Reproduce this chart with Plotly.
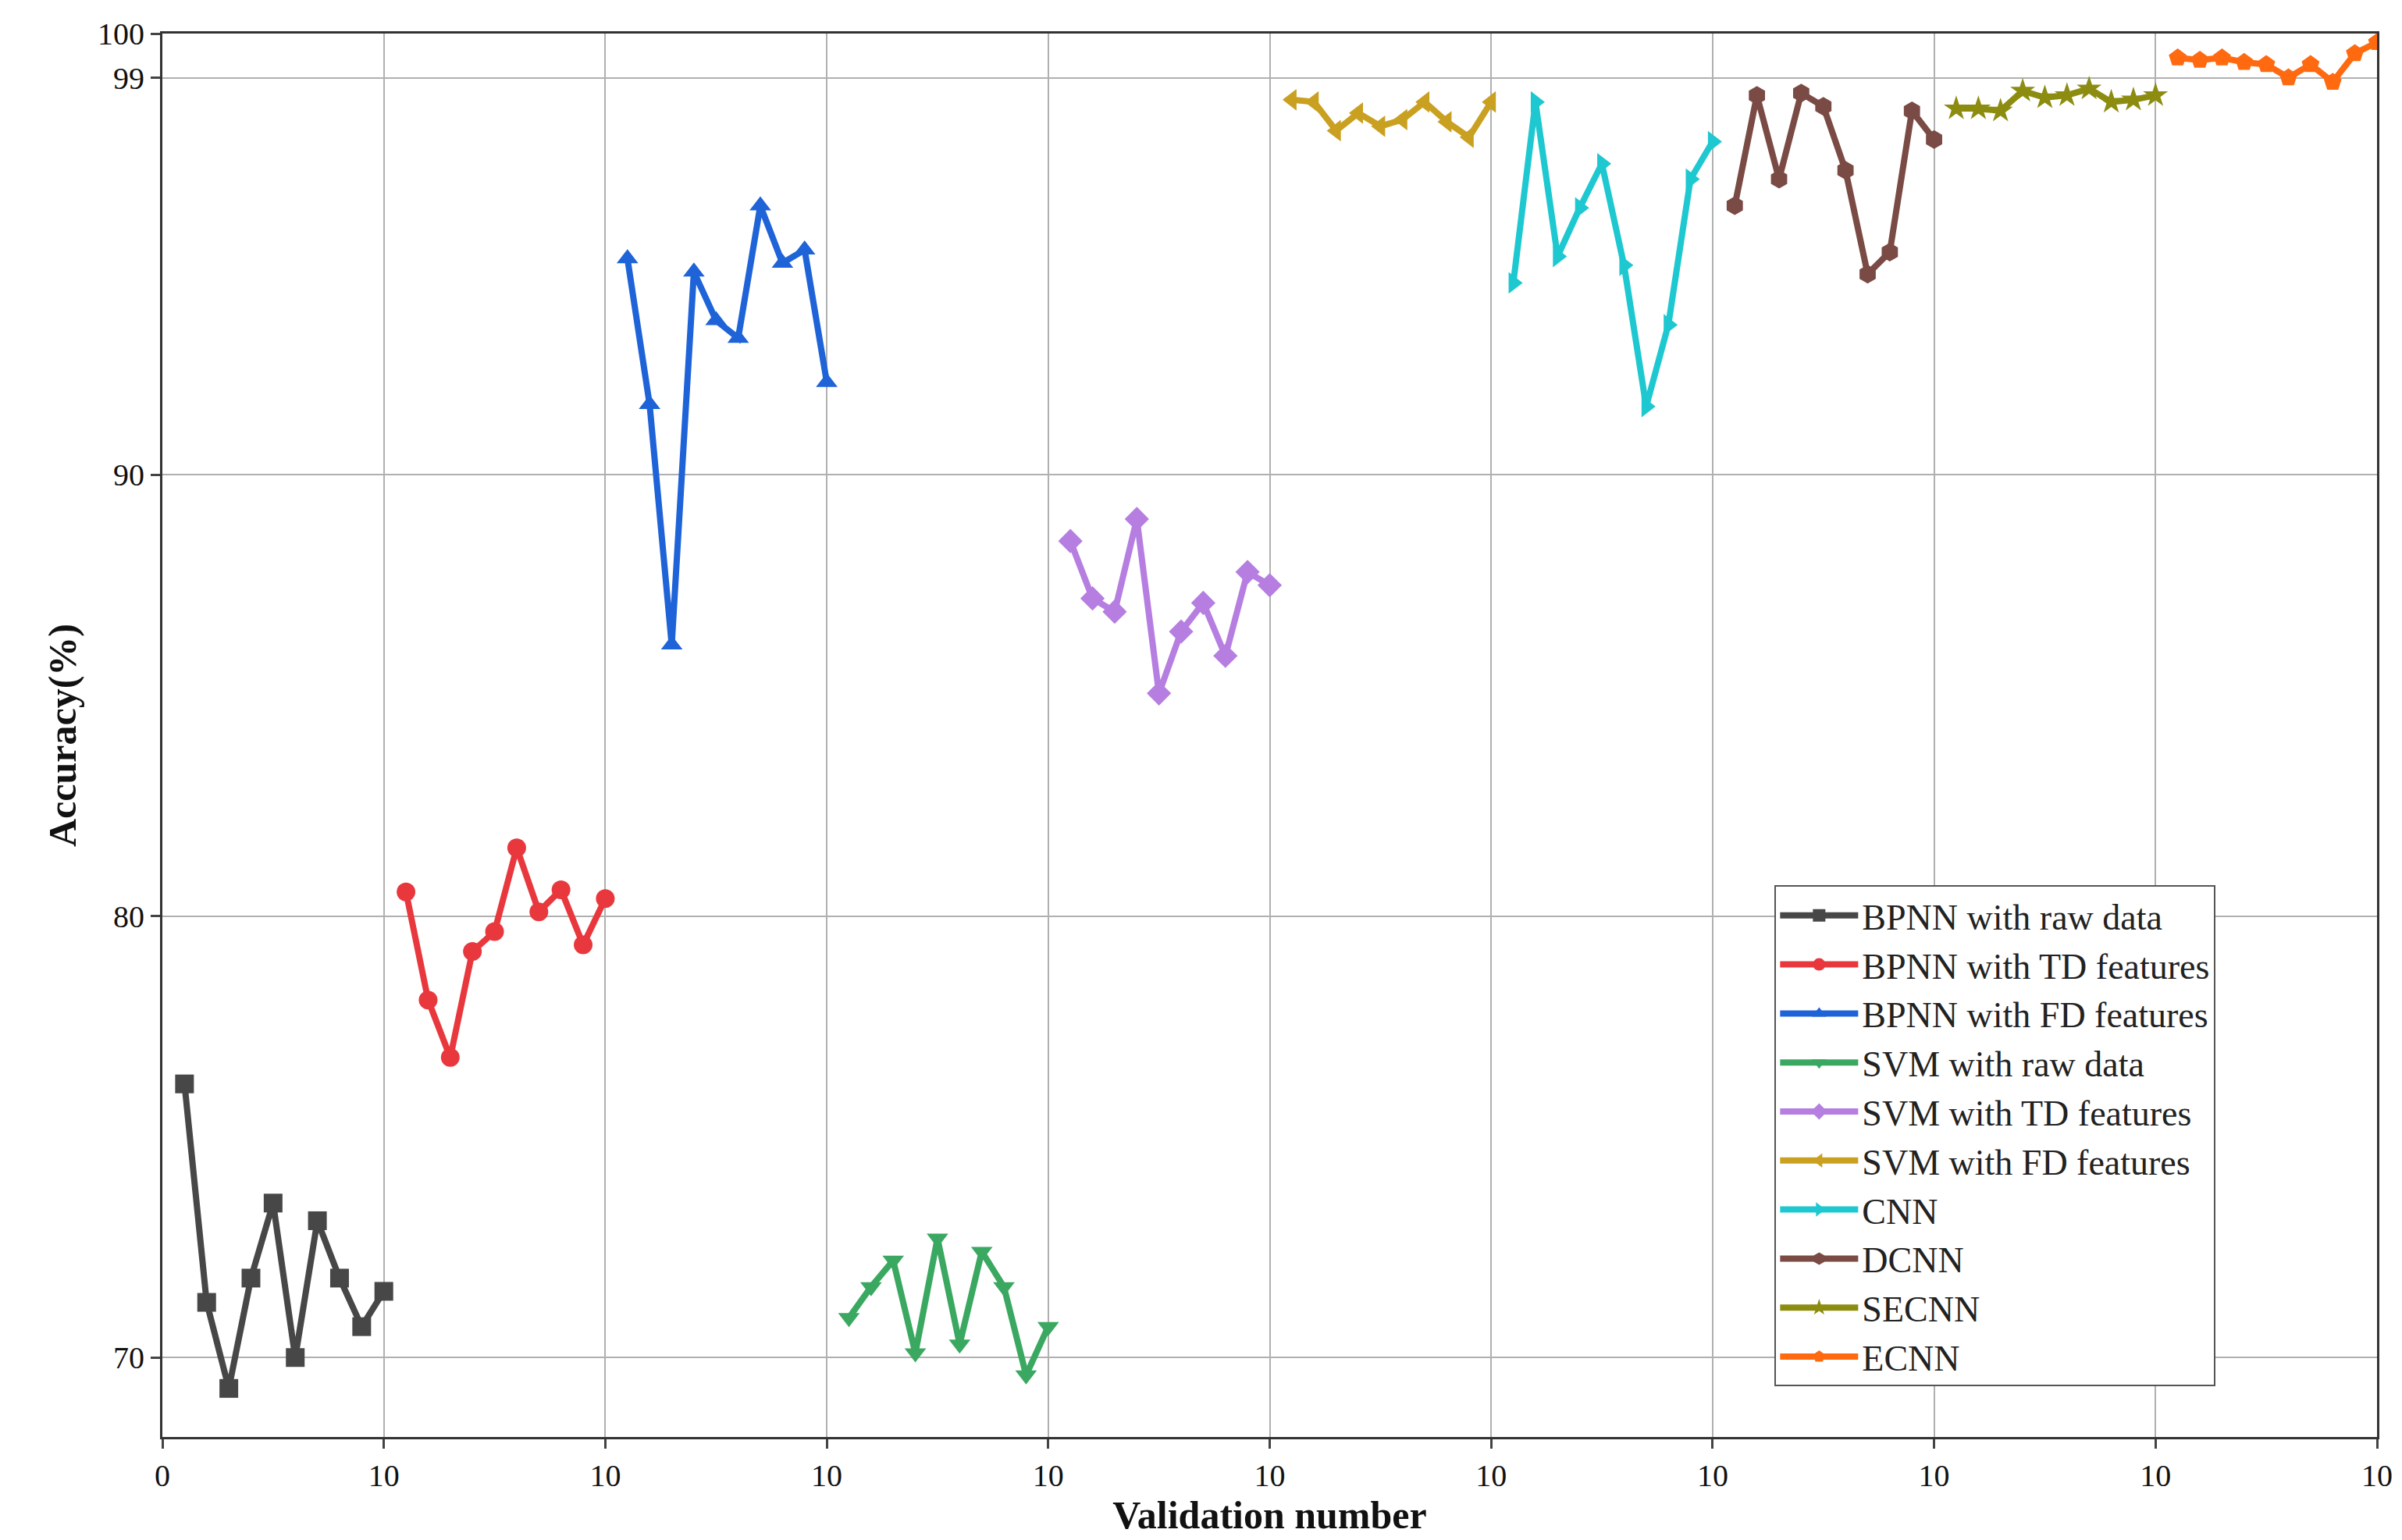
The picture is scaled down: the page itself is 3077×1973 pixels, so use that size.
import plotly.graph_objects as go

names = ["BPNN with raw data","BPNN with TD features","BPNN with FD features","SVM with raw data",
         "SVM with TD features","SVM with FD features","CNN","DCNN","SECNN","ECNN"]
bpnn_raw = [76.2,71.25,69.3,71.8,73.5,70.0,73.1,71.8,70.7,71.5]
bpnn_td = [80.55,78.1,76.8,79.2,79.65,81.55,80.1,80.6,79.35,80.4]
bpnn_fd = [94.9,91.6,86.15,94.6,93.5,93.1,96.1,94.8,95.1,92.1]
svm_raw = [70.9,71.6,72.2,70.1,72.7,70.3,72.4,71.6,69.6,70.7]
svm_td = [88.5,87.2,86.9,89.0,85.05,86.45,87.1,85.9,87.8,87.5]
svm_fd = [98.5,98.45,97.8,98.2,97.9,98.05,98.45,98.0,97.65,98.45]
cnn = [94.35,98.45,94.95,96.05,97.05,94.75,91.55,93.4,96.7,97.55]
dcnn = [96.1,98.6,96.7,98.65,98.35,96.9,94.55,95.05,98.25,97.6]
secnn = [98.3,98.3,98.25,98.7,98.55,98.6,98.75,98.45,98.5,98.6]
ecnn = [99.45,99.4,99.45,99.35,99.3,99.0,99.3,98.9,99.55,99.8]
series = [bpnn_raw,bpnn_td,bpnn_fd,svm_raw,svm_td,svm_fd,cnn,dcnn,secnn,ecnn]
colors = ["#474747","#e8383d","#1f63d8","#3aa860","#b57ee0","#c9a020","#1ec8d0","#7a4a45","#8c8c10","#ff6a10"]
symbols = ["square","circle","triangle-up","triangle-down","diamond","triangle-left","triangle-right","hexagon","star","pentagon"]
xtick_vals = [0,10,20,30,40,50,60,70,80,90,100]
xtick_text = ["0"]+["10"]*10
ytick_vals = [70,80,90,99,100]

fig = go.Figure()
for i,(n,v) in enumerate(zip(names,series)):
    fig.add_trace(go.Scatter(x=list(range(i*10+1,i*10+11)), y=v, name=n, mode="lines+markers",
        line=dict(color=colors[i], width=8), marker=dict(symbol=symbols[i], size=24, color=colors[i])))

ax = dict(showline=True, linecolor="#333", linewidth=3, mirror=True, ticks="outside", ticklen=12,
          tickwidth=3, gridcolor="#b0b0b0", gridwidth=2, zeroline=False,
          tickfont=dict(size=40, family="Liberation Serif", color="#111"))
fig.update_xaxes(**ax, range=[0,100], tickvals=xtick_vals, ticktext=xtick_text,
                 title=dict(text="<b>Validation number</b>", font=dict(size=50, family="Liberation Serif", color="#111"), standoff=6))
fig.update_yaxes(**ax, range=[68.2,100], tickvals=ytick_vals,
                 title=dict(text="<b>Accuracy(%)</b>", font=dict(size=50, family="Liberation Serif", color="#111"), standoff=12))
fig.update_layout(width=3077, height=1973, plot_bgcolor="white", paper_bgcolor="white",
    margin=dict(l=200, r=40, t=35, b=140),
    legend=dict(x=0.728, y=0.393, xanchor="left", yanchor="top", bordercolor="#555", borderwidth=2,
                bgcolor="white", font=dict(size=46, family="Liberation Serif", color="#222"),
                itemwidth=100, tracegroupgap=0))
fig.write_html("out.html")
